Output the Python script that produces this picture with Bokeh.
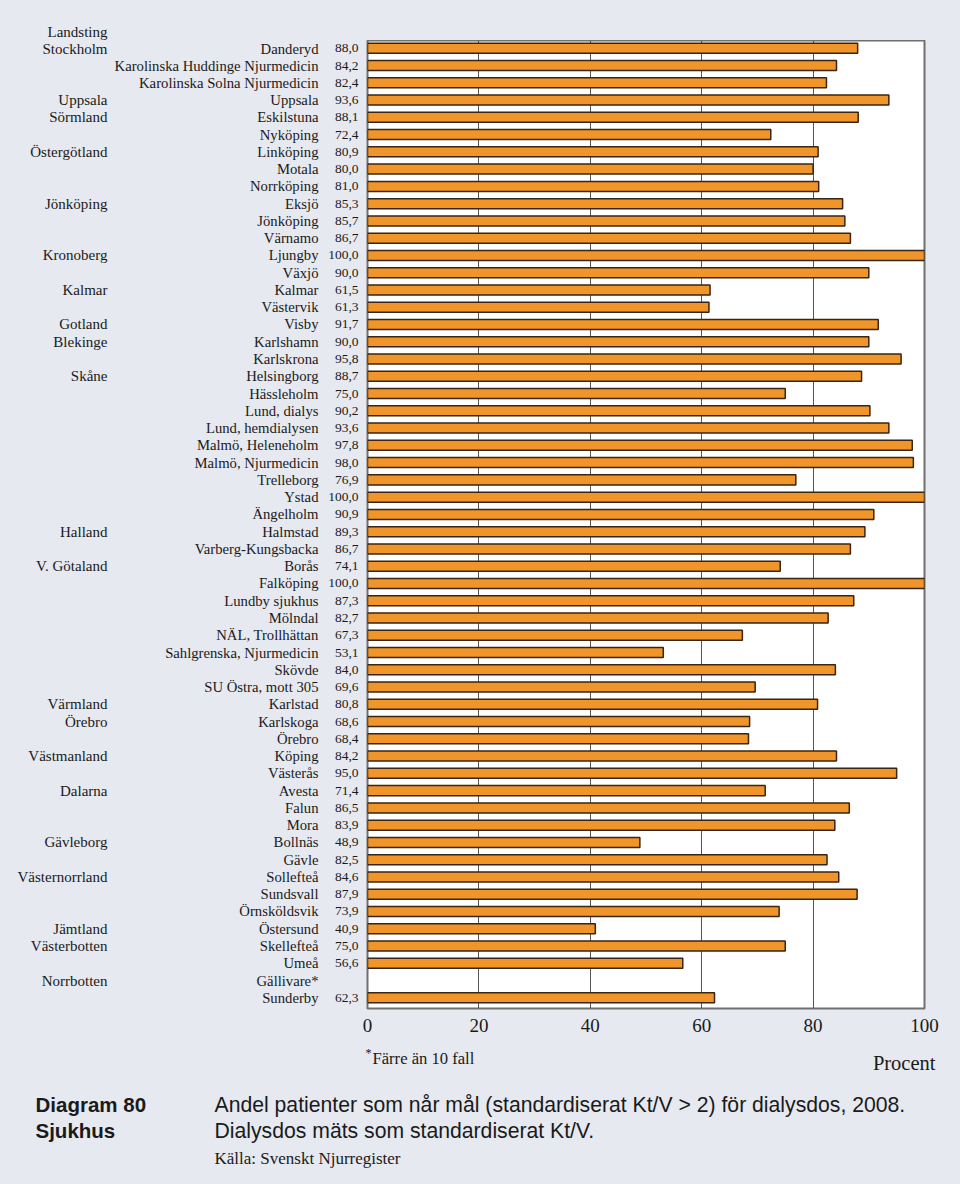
from bokeh.plotting import figure
from bokeh.layouts import column
from bokeh.models import LinearAxis, FixedTicker, Range1d, ColumnDataSource
from bokeh.core.properties import value
from bokeh.embed import file_html
from bokeh.resources import INLINE

# ---------------- data ----------------
regions = ["Stockholm", "", "", "Uppsala", "Sörmland", "", "Östergötland", "", "",
           "Jönköping", "", "", "Kronoberg", "", "Kalmar", "", "Gotland", "Blekinge", "",
           "Skåne", "", "", "", "", "", "", "", "", "Halland", "", "V. Götaland", "", "", "",
           "", "", "", "", "Värmland", "Örebro", "", "Västmanland", "", "Dalarna", "", "",
           "Gävleborg", "", "Västernorrland", "", "", "Jämtland", "Västerbotten", "",
           "Norrbotten", ""]
hospitals = ["Danderyd", "Karolinska Huddinge Njurmedicin", "Karolinska Solna Njurmedicin",
             "Uppsala", "Eskilstuna", "Nyköping", "Linköping", "Motala", "Norrköping",
             "Eksjö", "Jönköping", "Värnamo", "Ljungby", "Växjö", "Kalmar", "Västervik",
             "Visby", "Karlshamn", "Karlskrona", "Helsingborg", "Hässleholm", "Lund, dialys",
             "Lund, hemdialysen", "Malmö, Heleneholm", "Malmö, Njurmedicin", "Trelleborg",
             "Ystad", "Ängelholm", "Halmstad", "Varberg-Kungsbacka", "Borås", "Falköping",
             "Lundby sjukhus", "Mölndal", "NÄL, Trollhättan", "Sahlgrenska, Njurmedicin",
             "Skövde", "SU Östra, mott 305", "Karlstad", "Karlskoga", "Örebro", "Köping",
             "Västerås", "Avesta", "Falun", "Mora", "Bollnäs", "Gävle", "Sollefteå",
             "Sundsvall", "Örnsköldsvik", "Östersund", "Skellefteå", "Umeå", "Gällivare*",
             "Sunderby"]
values = [88.0, 84.2, 82.4, 93.6, 88.1, 72.4, 80.9, 80.0, 81.0, 85.3, 85.7, 86.7, 100.0,
          90.0, 61.5, 61.3, 91.7, 90.0, 95.8, 88.7, 75.0, 90.2, 93.6, 97.8, 98.0, 76.9,
          100.0, 90.9, 89.3, 86.7, 74.1, 100.0, 87.3, 82.7, 67.3, 53.1, 84.0, 69.6, 80.8,
          68.6, 68.4, 84.2, 95.0, 71.4, 86.5, 83.9, 48.9, 82.5, 84.6, 87.9, 73.9, 40.9,
          75.0, 56.6, None, 62.3]
x_ticks = [0, 20, 40, 60, 80, 100]

header_text = "Landsting"
footnote_text = "Färre än 10 fall"
unit_text = "Procent"
diagram_text = ["Diagram 80", "Sjukhus"]
caption_text = ["Andel patienter som når mål (standardiserat Kt/V > 2) för dialysdos, 2008.",
                "Dialysdos mäts som standardiserat Kt/V."]
source_text = "Källa: Svenskt Njurregister"

n = len(hospitals)
rows = list(range(n))

def fmt(v):
    return "" if v is None else f"{v:.1f}".replace(".", ",")

BG = "#e6e9f0"
SERIF = "Liberation Serif"
SANS = "Liberation Sans"
TXT = "#1a1a1a"

W = 960
TOP_H = 40
MAIN_H = 1000
BOT_H = 1184 - TOP_H - MAIN_H
F_LEFT, F_RIGHT = 367, 924
FRAME_H = 968

# ---------------- main chart ----------------
p = figure(width=W, height=MAIN_H, x_range=Range1d(0, 100),
           y_range=Range1d(55.62, -0.45),
           output_backend="svg", toolbar_location=None,
           min_border_left=F_LEFT, min_border_right=W - F_RIGHT,
           min_border_top=0, min_border_bottom=MAIN_H - FRAME_H,
           y_axis_location=None)
p.frame_align = False
p.background_fill_color = "white"
p.border_fill_color = BG
p.outline_line_color = "#707070"
p.outline_line_width = 2

p.ygrid.visible = False
p.xgrid.ticker = FixedTicker(ticks=x_ticks[1:-1])
p.xgrid.grid_line_color = "#555555"
p.xgrid.grid_line_width = 1

xa = p.xaxis[0]
xa.ticker = FixedTicker(ticks=x_ticks)
xa.axis_line_color = None
xa.major_tick_line_color = None
xa.minor_tick_line_color = None
xa.major_tick_out = 0
xa.major_tick_in = 0
xa.minor_tick_out = 0
xa.major_label_text_font = SERIF
xa.major_label_text_font_size = "19px"
xa.major_label_text_color = TXT
xa.major_label_standoff = 10

src = ColumnDataSource(dict(
    y=[r for r, v in zip(rows, values) if v is not None],
    v=[v for v in values if v is not None]))
p.hbar(y="y", left=0, right="v", height=0.58, source=src,
       fill_color="#f0952a", line_color="#3a2412", line_width=1.5)

def left_axis(labels, standoff, size):
    ax = LinearAxis(ticker=FixedTicker(ticks=rows),
                    major_label_overrides={r: t for r, t in zip(rows, labels)})
    ax.axis_line_color = None
    ax.major_tick_line_color = None
    ax.minor_tick_line_color = None
    ax.major_tick_out = 0
    ax.major_tick_in = 0
    ax.minor_tick_out = 0
    ax.minor_tick_in = 0
    ax.major_label_standoff = standoff
    ax.major_label_text_font = SERIF
    ax.major_label_text_font_size = size
    ax.major_label_text_color = TXT
    p.add_layout(ax, "left")
    return ax

left_axis([fmt(v) for v in values], 9, "13.5px")
left_axis(hospitals, 7, "14.7px")
left_axis(regions, 4, "15px")

# ---------------- text strips ----------------
def strip(height):
    s = figure(width=W, height=height, x_range=Range1d(0, W), y_range=Range1d(height, 0),
               output_backend="svg", toolbar_location=None, min_border=0,
               min_border_left=0, min_border_right=0, min_border_top=0, min_border_bottom=0,
               x_axis_location=None, y_axis_location=None)
    s.frame_align = False
    s.grid.visible = False
    s.outline_line_color = None
    s.background_fill_color = BG
    s.border_fill_color = BG
    return s

def txt(s, x, y, text, font=SERIF, size="14px", align="left", style="normal"):
    s.text(x=[x], y=[y], text=[text], text_font=value(font), text_font_size=value(size),
           text_align=align, text_baseline="middle", text_font_style=style,
           text_color=TXT)

top = strip(TOP_H)
txt(top, 107, 31, header_text, size="15px", align="right")

bot = strip(BOT_H)
y0 = TOP_H + MAIN_H
txt(bot, 365, 1052 - y0, "*", size="12px")
txt(bot, 372, 1058 - y0, footnote_text, size="16.6px")
txt(bot, 935, 1062 - y0, unit_text, size="20.5px", align="right")
txt(bot, 35, 1104 - y0, diagram_text[0], font=SANS, size="20.5px", style="bold")
txt(bot, 35, 1130 - y0, diagram_text[1], font=SANS, size="20.5px", style="bold")
txt(bot, 214, 1104 - y0, caption_text[0], font=SANS, size="21.2px")
txt(bot, 214, 1130 - y0, caption_text[1], font=SANS, size="21.2px")
txt(bot, 214, 1158 - y0, source_text, size="17px")

layout = column(top, p, bot, spacing=0)
html = file_html(layout, INLINE)
html = html.replace("<head>", "<head><style>html,body{background:#e6e9f0;margin:0;}</style>", 1)
open("out.html", "w").write(html)
